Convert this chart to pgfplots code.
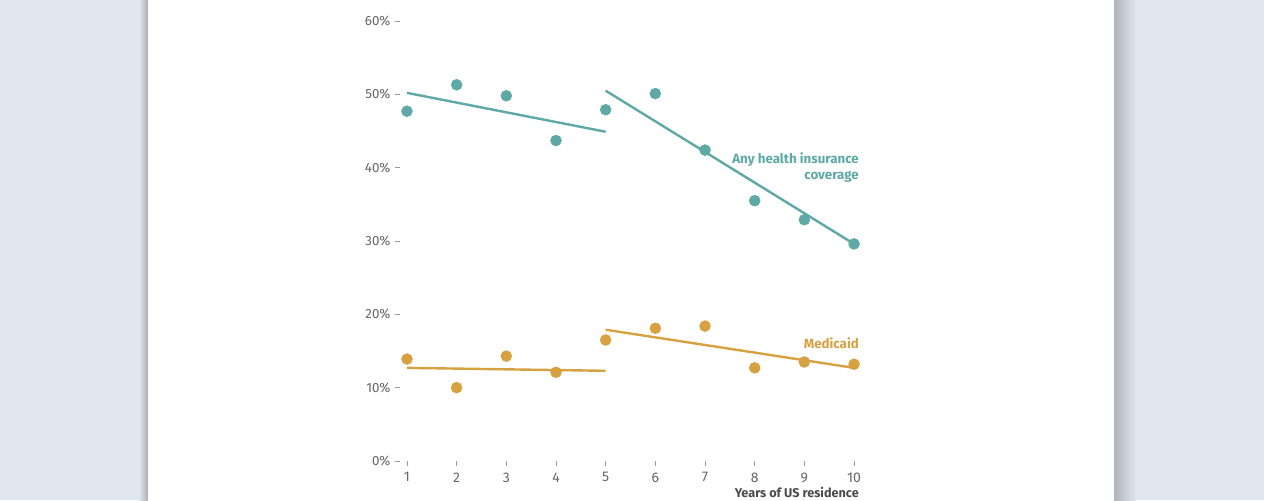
\documentclass[border=0pt]{standalone}
\usepackage{fontspec}
\setmainfont{Fira Sans}
\usepackage{pgfplots}
\pgfplotsset{compat=1.18}
\definecolor{bgc}{HTML}{E1E7EF}
\definecolor{tealc}{HTML}{5EA9A5}
\definecolor{goldc}{HTML}{D7A141}
\definecolor{tickc}{HTML}{666666}
\definecolor{tickm}{HTML}{9A9A9A}
\definecolor{labc}{HTML}{4A4A4A}
\begin{document}
\begin{tikzpicture}
\begin{scope}[x=0.75pt,y=0.75pt]
\useasboundingbox (0,0) rectangle (1264,500);
\fill[bgc] (0,0) rectangle (1264,500);
\fill[left color=bgc, right color=bgc!60!black!70] (139,0) rectangle (148,500);
\fill[left color=bgc!70!black!80, right color=bgc] (1114,0) rectangle (1136,500);
\fill[white] (148,0) rectangle (1114,500);
\end{scope}
\begin{axis}[
  at={(300pt,29.25pt)}, anchor=south west,
  scale only axis, width=345pt, height=330pt,
  xmin=0.86, xmax=10.12, ymin=0, ymax=60,
  axis x line*=bottom, axis y line*=left,
  axis line style={draw=none},
  tick align=outside, major tick length=3.6pt,
  tick style={tickm, line width=0.6pt},
  xtick={1,...,10}, ytick={0,10,...,60},
  yticklabel={\pgfmathprintnumber{\tick}\%},
  /pgf/number format/assume math mode=true,
  tick label style={font=\fontsize{10}{12}\selectfont, text=tickc},
  xticklabel style={font=\fontsize{10.5}{12}\selectfont, yshift=-1.5pt},
  clip=false,
]
\addplot[only marks, mark=*, mark size=4.1pt, tealc] coordinates {
(1,47.7) (2,51.3) (3,49.8) (4,43.7) (5,47.9) (6,50.1) (7,42.4) (8,35.5) (9,32.9) (10,29.6)};
\addplot[tealc, line width=1.8pt] coordinates {(1,50.2) (5,44.9)};
\addplot[tealc, line width=1.8pt] coordinates {(5,50.5) (10,29.6)};
\addplot[only marks, mark=*, mark size=4.1pt, goldc] coordinates {
(1,13.9) (2,10.0) (3,14.3) (4,12.1) (5,16.5) (6,18.1) (7,18.4) (8,12.7) (9,13.5) (10,13.2)};
\addplot[goldc, line width=1.8pt] coordinates {(1,12.7) (5,12.3)};
\addplot[goldc, line width=1.8pt] coordinates {(5,17.9) (10,12.7)};
\node[anchor=east, align=right, text=tealc, font=\fontsize{10}{11.5}\selectfont\bfseries, inner sep=0pt] at (axis cs:10.1,40.0) {Any health insurance\\coverage};
\node[anchor=east, text=goldc, font=\fontsize{10}{11.5}\selectfont\bfseries, inner sep=0pt] at (axis cs:10.1,16.0) {Medicaid};
\node[anchor=east, text=labc, font=\fontsize{9.5}{11}\selectfont\bfseries, inner sep=0pt] at (axis cs:10.1,-4.3) {Years of US residence};
\end{axis}
\end{tikzpicture}
\end{document}
